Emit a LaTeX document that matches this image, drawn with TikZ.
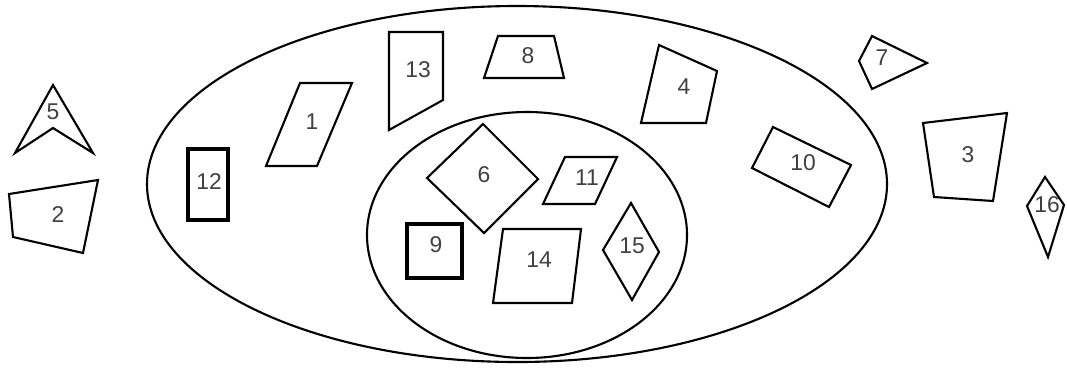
\documentclass[tikz,border=0pt]{standalone}
\usepackage{fontspec}
\setmainfont{Liberation Sans}
\begin{document}
\begin{tikzpicture}[x=0.2mm,y=-0.2mm,line width=1.2pt,line join=miter,
  lbl/.style={text=black!75,font=\fontsize{13}{15}\selectfont,inner sep=0pt},
  boxthick/.style={line width=1.9pt}]
\useasboundingbox (0,0) rectangle (1067,368);

% the two sets
\draw (517,184) ellipse (74mm and 35.6mm);
\draw (527,235) ellipse (32mm and 24.6mm);

% outside both
\draw (53,85) -- (93,153) -- (53,128) -- (15,153) -- cycle;
\node[lbl] (n5) at (53,112) {5};
\draw (9,194) -- (98,180) -- (83,253) -- (13,237) -- cycle;
\node[lbl] (n2) at (58,215) {2};
\draw (872,36) -- (927,63) -- (872,89) -- (859,61) -- cycle;
\node[lbl] (n7) at (882,58) {7};
\draw (923,123) -- (1007,113) -- (993,201) -- (934,197) -- cycle;
\node[lbl] (n3) at (968,155) {3};
\draw (1045,177) -- (1064,205) -- (1048,257) -- (1027,206) -- cycle;
\node[lbl] (n16) at (1047,205) {16};

% outer set only
\draw[boxthick] (188,149) rectangle (228,220);
\node[lbl] (n12) at (209,182) {12};
\draw (300,83) -- (352,83) -- (317,166) -- (266,166) -- cycle;
\node[lbl] (n1) at (312,122) {1};
\draw (389,32) -- (443,32) -- (443,100) -- (389,130) -- cycle;
\node[lbl] (n13) at (418,70) {13};
\draw (498,36) -- (554,36) -- (564,78) -- (484,78) -- cycle;
\node[lbl] (n8) at (528,56) {8};
\draw (659,45) -- (717,71) -- (706,123) -- (641,123) -- cycle;
\node[lbl] (n4) at (684,87) {4};
\draw (773,127) -- (851,165) -- (829,207) -- (752,168) -- cycle;
\node[lbl] (n10) at (803,163) {10};

% inner set
\draw (483,124) -- (538,179) -- (484,233) -- (427,178) -- cycle;
\node[lbl] (n6) at (484,175) {6};
\draw (565,157) -- (617,157) -- (595,204) -- (543,204) -- cycle;
\node[lbl] (n11) at (587,178) {11};
\draw[boxthick] (407,224) rectangle (462,278);
\node[lbl] (n9) at (436,245) {9};
\draw (503,229) -- (581,229) -- (572,303) -- (493,303) -- cycle;
\node[lbl] (n14) at (539,260) {14};
\draw (631,203) -- (659,252) -- (632,300) -- (603,250) -- cycle;
\node[lbl] (n15) at (632,246) {15};
\end{tikzpicture}
\end{document}
